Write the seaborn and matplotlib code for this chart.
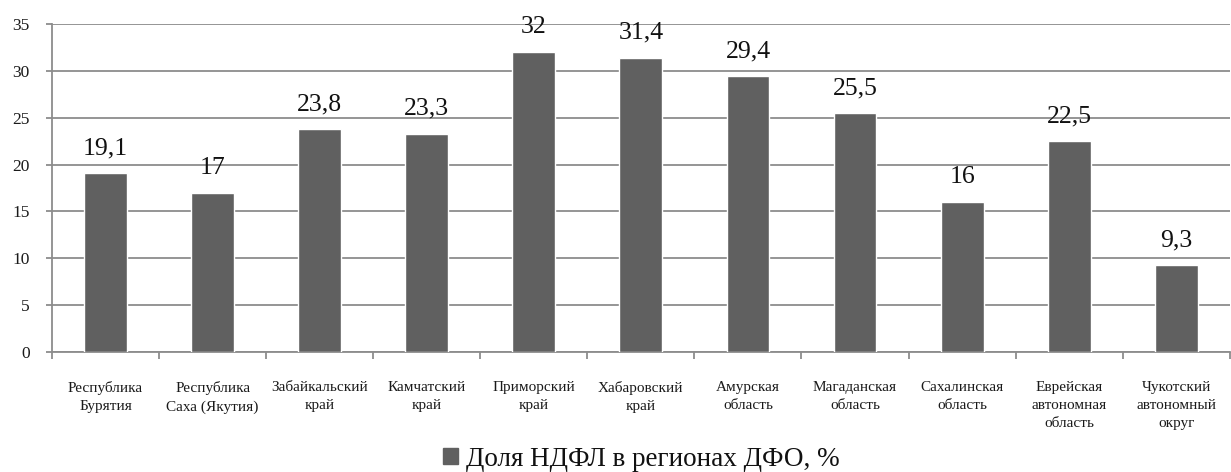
import matplotlib
matplotlib.use("Agg")
import matplotlib.pyplot as plt
import numpy as np
import pandas as pd
import seaborn as sns
from matplotlib.patches import Patch
from matplotlib.ticker import MultipleLocator

# Regions of the Far Eastern Federal District (tick labels, wrapped)
regions = [
    "Республика\nБурятия",
    "Республика\nСаха (Якутия)",
    "Забайкальский\nкрай",
    "Камчатский\nкрай",
    "Приморский\nкрай",
    "Хабаровский\nкрай",
    "Амурская\nобласть",
    "Магаданская\nобласть",
    "Сахалинская\nобласть",
    "Еврейская\nавтономная\nобласть",
    "Чукотский\nавтономный\nокруг",
]
# Share of personal income tax, %
ndfl_share = [19.1, 17, 23.8, 23.3, 32, 31.4, 29.4, 25.5, 16, 22.5, 9.3]
value_labels = ["19,1", "17", "23,8", "23,3", "32", "31,4", "29,4", "25,5", "16", "22,5", "9,3"]
series_name = "Доля НДФЛ в регионах ДФО, %"

sns.set_theme(style="white")
plt.rcParams["font.family"] = ["Liberation Serif", "DejaVu Serif"]

W, H = 1231, 472
fig = plt.figure(figsize=(W / 100, H / 100), dpi=100)
ax = fig.add_axes([52 / W, 1 - 352 / H, 1 - 52 / W - 0.001, 328 / H])

bar_color = "#606060"
grid_color = "#8c8c8c"

df = pd.DataFrame({"region": regions, "value": ndfl_share})
sns.barplot(data=df, x="region", y="value", color=bar_color, saturation=1,
            width=0.4, ax=ax, zorder=3)

ax.set_xlim(-0.5, len(regions) - 0.5)
ax.set_ylim(0, 35)
ax.yaxis.set_major_locator(MultipleLocator(5))
ax.set_xlabel("")
ax.set_ylabel("")

ax.grid(axis="y", color=grid_color, lw=1.3, zorder=0)
ax.grid(axis="x", visible=False)
ax.set_axisbelow(True)

for side in ["top", "right"]:
    ax.spines[side].set_visible(False)
for side in ["left", "bottom"]:
    ax.spines[side].set_color(grid_color)
    ax.spines[side].set_linewidth(1.3)

# category boundary ticks below the axis
ax.set_xticks(np.arange(-0.5, len(regions)), minor=True)
ax.tick_params(axis="x", which="major", length=0, pad=21, labelsize=11,
               labelcolor="#1a1a1a")
ax.tick_params(axis="x", which="minor", length=5, width=1.3, color=grid_color,
               direction="out", bottom=True)
ax.tick_params(axis="y", which="major", length=4, width=1.3, color=grid_color,
               direction="out", left=True, pad=12, labelsize=12.5,
               labelcolor="#1a1a1a")
for lbl in ax.get_xticklabels():
    lbl.set_linespacing(1.5)

ax.bar_label(ax.containers[0], labels=value_labels, padding=10, fontsize=18.5,
             color="#111111")

fig.legend(handles=[Patch(color=bar_color, label=series_name)],
           loc="center", bbox_to_anchor=(641 / W, 1 - 459 / H),
           frameon=False, fontsize=19.5, handlelength=0.55, handleheight=0.55,
           handletextpad=0.3, labelcolor="#111111", borderpad=0)

fig.savefig("out.png", dpi=100)
